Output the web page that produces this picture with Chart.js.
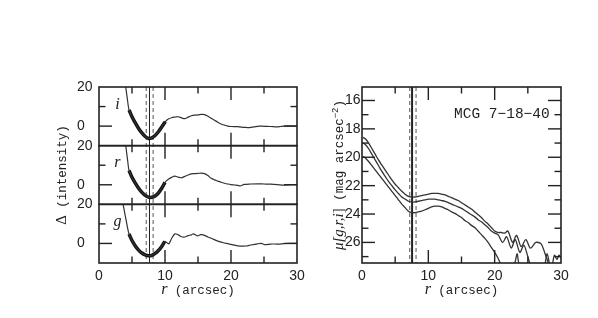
<!DOCTYPE html>
<html>
<head>
<meta charset="utf-8">
<script src="https://cdn.jsdelivr.net/npm/chart.js@4.4.0/dist/chart.umd.min.js"></script>
<style>
  html, body { margin: 0; padding: 0; background: #fff; }
  #wrap { position: relative; width: 598px; height: 318px; }
  .box { position: absolute; top: 0; height: 318px; }
  #left { left: 0; width: 320px; }
  #right { left: 320px; width: 278px; }
</style>
</head>
<body>
<div id="wrap">
  <div class="box" id="left"><canvas id="leftChart"></canvas></div>
  <div class="box" id="right"><canvas id="rightChart"></canvas></div>
</div>
<script>
// ---- axis ticks ----
const X_TICKS = [0, 5, 10, 15, 20, 25, 30];
const DELTA_TICKS = [-10, 0, 10, 20];
const MU_TICKS = [16, 17, 18, 19, 20, 21, 22, 23, 24, 25, 26, 27];

// ---- left: residual intensity per band (r in arcsec) ----
const rI = [4.05, 4.3, 4.55, 5.0, 5.5, 6.0, 6.5, 7.0, 7.5, 8.0, 8.5, 9.0, 9.5, 10.05, 10.5, 11.0, 11.5, 12.0, 12.5, 13.0, 13.5, 14.0, 14.5, 15.0, 15.5, 16.0, 16.5, 17.0, 17.5, 18.0, 18.5, 19.0, 19.5, 20.0, 21.0, 22.0, 22.8, 23.5, 24.3, 25.0, 26.0, 27.0, 27.5, 28.0, 29.0, 30.0];
const dI = [20, 13.8, 8.2, 4.8, 1.6, -1.2, -3.5, -5.3, -6.3, -6.0, -4.8, -2.9, -0.5, 2.3, 3.6, 4.3, 4.6, 4.8, 4.2, 3.8, 4.6, 5.3, 5.6, 5.7, 6.0, 5.9, 5.0, 4.0, 3.0, 2.0, 1.1, 0.5, 0.0, -0.2, -0.3, -0.6, -0.8, -0.4, 0.0, -0.1, -0.2, -0.4, -0.2, 0.0, 0.1, 0.0];
const rIfit = [4.55, 5.0, 5.5, 6.0, 6.5, 7.0, 7.5, 8.0, 8.5, 9.0, 9.5, 10.05];
const dIfit = [8.2, 4.8, 1.6, -1.2, -3.5, -5.3, -6.3, -6.0, -4.8, -2.9, -0.5, 2.3];

const rR = [4.05, 4.3, 4.55, 5.0, 5.5, 6.0, 6.5, 7.0, 7.5, 8.0, 8.5, 9.0, 9.5, 10.0, 10.5, 11.0, 11.5, 12.0, 12.5, 13.0, 13.5, 14.0, 14.5, 15.0, 15.5, 16.0, 16.5, 17.0, 17.5, 18.0, 18.5, 19.0, 19.5, 20.0, 20.5, 21.0, 21.5, 22.0, 23.0, 24.0, 25.0, 26.0, 27.0, 28.0, 28.5, 29.0, 30.0];
const dR = [20, 13.5, 7.3, 3.8, 0.8, -1.8, -3.9, -5.4, -6.3, -6.4, -5.7, -4.2, -1.8, 1.2, 2.8, 3.8, 4.4, 3.9, 3.6, 4.3, 5.0, 5.6, 5.7, 5.8, 6.0, 5.7, 4.7, 3.3, 2.5, 1.9, 1.3, 0.8, 0.4, 0.1, -0.1, -0.3, -0.5, 0.2, 0.4, 0.5, 0.4, 0.3, 0.1, -0.2, -0.1, 0.1, 0.0];
const rRfit = [4.55, 5.0, 5.5, 6.0, 6.5, 7.0, 7.5, 8.0, 8.5, 9.0, 9.5, 10.0];
const dRfit = [7.3, 3.8, 0.8, -1.8, -3.9, -5.4, -6.3, -6.4, -5.7, -4.2, -1.8, 1.2];

const rG = [3.65, 3.9, 4.1, 4.3, 4.55, 5.0, 5.5, 6.0, 6.5, 7.0, 7.5, 8.0, 8.5, 9.0, 9.5, 9.95, 10.3, 10.6, 11.0, 11.5, 12.0, 12.5, 13.0, 13.5, 14.0, 14.3, 14.9, 15.4, 15.8, 16.5, 17.3, 18.0, 18.7, 19.3, 20.0, 21.0, 22.3, 23.0, 24.0, 24.6, 25.1, 26.0, 27.1, 28.0, 29.0, 30.0];
const dG = [20, 15.5, 12.0, 8.5, 4.8, 1.5, -1.3, -3.4, -4.9, -5.9, -6.3, -6.1, -5.1, -3.6, -1.5, 1.0, 0.4, -0.2, 2.5, 4.9, 4.4, 3.4, 3.3, 4.0, 4.4, 4.9, 3.9, 4.5, 4.4, 3.3, 2.2, 1.2, 0.5, 0.0, -0.5, -1.2, -1.3, -0.8, -0.2, 0.0, -0.6, -0.3, -0.3, -0.1, 0.1, 0.1];
const rGfit = [4.55, 5.0, 5.5, 6.0, 6.5, 7.0, 7.5, 8.0, 8.5, 9.0, 9.5, 9.95];
const dGfit = [4.8, 1.5, -1.3, -3.4, -4.9, -5.9, -6.3, -6.1, -5.1, -3.6, -1.5, 1.0];

// ---- right: surface brightness profiles (mag arcsec^-2) ----
const rMuI = [0.15, 0.5, 1.0, 1.5, 2.0, 2.5, 3.0, 3.5, 4.0, 4.5, 5.0, 5.5, 6.0, 6.5, 7.0, 7.5, 8.0, 8.5, 9.0, 9.5, 10.0, 10.5, 11.0, 11.5, 12.0, 12.5, 13.0, 13.5, 14.0, 14.5, 15.0, 15.5, 16.0, 16.5, 17.0, 17.5, 18.0, 18.5, 19.0, 19.5, 20.0, 20.5, 21.0, 21.5, 22.0, 22.7, 23.3, 24.0, 24.7, 25.4, 26.2, 27.0, 27.6, 28.2];
const muI = [18.6, 18.7, 19.0, 19.4, 19.8, 20.2, 20.55, 20.9, 21.25, 21.6, 21.9, 22.15, 22.4, 22.6, 22.75, 22.8, 22.8, 22.75, 22.7, 22.65, 22.6, 22.55, 22.55, 22.55, 22.6, 22.65, 22.75, 22.85, 22.95, 23.05, 23.2, 23.35, 23.5, 23.65, 23.85, 24.05, 24.25, 24.5, 24.7, 24.95, 25.2, 25.3, 25.3, 25.35, 25.2, 26.0, 25.5, 26.3, 25.8, 26.4, 26.0, 26.1, 26.8, 27.6];
const rMuR = [0.15, 0.5, 1.0, 1.5, 2.0, 2.5, 3.0, 3.5, 4.0, 4.5, 5.0, 5.5, 6.0, 6.5, 7.0, 7.5, 8.0, 8.5, 9.0, 9.5, 10.0, 10.5, 11.0, 11.5, 12.0, 12.5, 13.0, 13.5, 14.0, 14.5, 15.0, 15.5, 16.0, 16.5, 17.0, 17.5, 18.0, 18.5, 19.0, 19.5, 20.0, 20.5, 21.2, 21.8, 22.5, 23.1, 23.8, 24.4, 25.0, 25.4, 26.5, 28.6, 29.0, 29.4, 29.7, 30.0];
const muR = [19.0, 19.1, 19.4, 19.8, 20.2, 20.6, 21.0, 21.35, 21.7, 22.0, 22.3, 22.55, 22.8, 22.95, 23.1, 23.15, 23.15, 23.1, 23.05, 23.0, 22.95, 22.95, 22.95, 23.0, 23.05, 23.1, 23.2, 23.3, 23.4, 23.5, 23.6, 23.75, 23.9, 24.05, 24.2, 24.4, 24.55, 24.75, 24.95, 25.2, 25.35, 25.45, 26.0, 25.6, 26.4, 25.8, 26.7, 26.2, 27.0, 27.6, 28.5, 27.6, 26.9, 27.2, 26.9, 27.1];
const rMuG = [0.15, 0.5, 1.0, 1.5, 2.0, 2.5, 3.0, 3.5, 4.0, 4.5, 5.0, 5.5, 6.0, 6.5, 7.0, 7.5, 8.0, 8.5, 9.0, 9.5, 10.0, 10.5, 11.0, 11.5, 12.0, 12.5, 13.0, 13.5, 14.0, 14.5, 15.0, 15.5, 16.0, 16.5, 17.0, 17.5, 18.0, 18.5, 19.0, 19.5, 20.0, 20.5, 21.0, 22.0, 23.0, 23.4, 23.8, 26.5, 27.5, 27.9, 28.3];
const muG = [19.95, 20.05, 20.3, 20.6, 20.9, 21.2, 21.5, 21.8, 22.1, 22.4, 22.7, 23.0, 23.3, 23.55, 23.8, 23.9, 23.9, 23.85, 23.8, 23.7, 23.6, 23.5, 23.45, 23.45, 23.5, 23.6, 23.7, 23.85, 23.95, 24.1, 24.25, 24.45, 24.6, 24.8, 24.95, 25.2, 25.45, 25.7, 26.0, 26.35, 26.7, 27.1, 27.6, 28.2, 27.5, 26.8, 27.6, 28.0, 27.6, 26.8, 27.6];

// vertical markers (dashed, solid, dashed)
const MARK_LEFT = [7.15, 7.65, 8.2];
const MARK_RIGHT = [7.2, 7.55, 8.15];

const GALAXY = 'MCG 7\u221218\u221240';

const INK = '#222';
const SANS = '"Liberation Sans", Arial, sans-serif';
const MONO = '"Liberation Mono", monospace';
const SERIF = '"Liberation Serif", serif';
const MAJOR = 13, MINOR = 6.5;

function seg(ctx, x1, y1, x2, y2) {
  ctx.beginPath(); ctx.moveTo(x1, y1); ctx.lineTo(x2, y2); ctx.stroke();
}

// text made of pieces with different fonts, centred on (x, y) baseline
function richText(ctx, parts, x, y, rot) {
  ctx.save();
  ctx.translate(x, y);
  ctx.rotate(rot);
  ctx.fillStyle = INK;
  ctx.textAlign = 'left';
  ctx.textBaseline = 'alphabetic';
  let total = 0;
  const w = parts.map(p => { ctx.font = p.font; const m = ctx.measureText(p.text).width; total += m; return m; });
  let cx = -total / 2;
  parts.forEach((p, k) => { ctx.font = p.font; ctx.fillText(p.text, cx, p.dy || 0); cx += w[k]; });
  ctx.restore();
}

const R_TITLE = [
  { text: 'r', font: 'italic 16px ' + SERIF },
  { text: ' (arcsec)', font: '12.5px ' + MONO }
];
const DELTA_TITLE = [
  { text: '\u0394', font: '15px ' + SERIF },
  { text: ' (intensity)', font: '12.5px ' + MONO }
];
const MU_TITLE = [
  { text: '\u03bc[', font: 'italic 15px ' + SERIF },
  { text: 'g,r,i', font: 'italic 15px ' + SERIF },
  { text: ']', font: '15px ' + SERIF },
  { text: ' (mag arcsec', font: '12.5px ' + MONO },
  { text: '\u22122', font: '9px ' + MONO, dy: -5 },
  { text: ')', font: '12.5px ' + MONO }
];

function drawMarks(chart, marks, midWidth) {
  const { ctx, chartArea: a } = chart;
  const x = chart.scales.x;
  ctx.save();
  marks.forEach((v, k) => {
    const px = x.getPixelForValue(v);
    ctx.strokeStyle = k === 1 ? INK : '#555';
    ctx.lineWidth = k === 1 ? midWidth : 1;
    ctx.setLineDash(k === 1 ? [] : [4, 3]);
    seg(ctx, px, a.top, px, a.bottom);
  });
  ctx.restore();
}

// frame + inward tick marks for every stacked panel
function drawPanels(chart, yIds, isMajorY) {
  const { ctx, chartArea: a } = chart;
  const x = chart.scales.x;
  ctx.save();
  ctx.strokeStyle = INK;
  yIds.forEach(id => {
    const y = chart.scales[id];
    ctx.lineWidth = 1.4;
    x.ticks.forEach(t => {
      if (t.value <= x.min || t.value >= x.max) return;
      const px = x.getPixelForValue(t.value);
      const len = t.value % 10 === 0 ? MAJOR : MINOR;
      seg(ctx, px, y.top, px, y.top + len);
      seg(ctx, px, y.bottom, px, y.bottom - len);
    });
    y.ticks.forEach(t => {
      if (t.value <= y.min || t.value >= y.max) return;
      const py = y.getPixelForValue(t.value);
      const len = isMajorY(t.value) ? MAJOR : MINOR;
      seg(ctx, a.left, py, a.left + len, py);
      seg(ctx, a.right, py, a.right - len, py);
    });
    ctx.lineWidth = 1.6;
    ctx.strokeRect(a.left, y.top, a.right - a.left, y.bottom - y.top);
  });
  ctx.restore();
}

const line = (xs, ys, axis, width) => ({
  data: xs.map((v, k) => ({ x: v, y: ys[k] })),
  yAxisID: axis,
  borderColor: width > 2 ? '#111' : '#333',
  borderWidth: width,
  pointRadius: 0,
  tension: 0.3,
  fill: false
});

function xScale() {
  return {
    type: 'linear', position: 'bottom', min: 0, max: 30,
    afterBuildTicks: s => { s.ticks = X_TICKS.map(v => ({ value: v })); },
    afterFit: s => { s.height = 55; },
    grid: { display: false, drawTicks: false },
    border: { display: false },
    ticks: {
      autoSkip: false, maxRotation: 0, padding: 5, color: INK,
      font: { family: SANS, size: 14 },
      callback: v => (v % 10 === 0 ? String(v) : '')
    }
  };
}

function deltaScale() {
  return {
    type: 'linear', position: 'left', stack: 'bands', stackWeight: 1, min: -10, max: 20,
    afterBuildTicks: s => { s.ticks = DELTA_TICKS.map(v => ({ value: v })); },
    afterFit: s => { s.width = 22; },
    grid: { display: false, drawTicks: false },
    border: { display: false },
    ticks: {
      autoSkip: false, crossAlign: 'far', color: INK,
      font: { family: SANS, size: 14 },
      callback: v => (v === 0 || v === 20 ? String(v) : '')
    }
  };
}

const leftDeco = {
  id: 'leftDeco',
  beforeDatasetsDraw(chart) { drawMarks(chart, MARK_LEFT, 1); },
  afterDraw(chart) {
    drawPanels(chart, ['yg', 'yr', 'yi'], v => v % 20 === 0);
    const { ctx, chartArea: a, scales } = chart;
    ctx.save();
    ctx.fillStyle = INK;
    ctx.font = 'italic 16px ' + SERIF;
    ctx.textAlign = 'center';
    [['yi', 'i'], ['yr', 'r'], ['yg', 'g']].forEach(([id, ch]) => {
      ctx.fillText(ch, scales.x.getPixelForValue(2.8), scales[id].getPixelForValue(9));
    });
    ctx.restore();
    richText(ctx, R_TITLE, (a.left + a.right) / 2, 294, 0);
    richText(ctx, DELTA_TITLE, 66, (a.top + a.bottom) / 2, -Math.PI / 2);
  }
};

const rightDeco = {
  id: 'rightDeco',
  beforeDatasetsDraw(chart) { drawMarks(chart, MARK_RIGHT, 2); },
  afterDraw(chart) {
    drawPanels(chart, ['y'], v => v % 2 === 0);
    const { ctx, chartArea: a, scales } = chart;
    ctx.save();
    ctx.fillStyle = INK;
    ctx.font = '14.5px ' + MONO;
    ctx.textAlign = 'right';
    ctx.fillText(GALAXY, scales.x.getPixelForValue(28.3), scales.y.getPixelForValue(17.25));
    ctx.restore();
    richText(ctx, R_TITLE, (a.left + a.right) / 2, 294, 0);
    richText(ctx, MU_TITLE, 23, (a.top + a.bottom) / 2, -Math.PI / 2);
  }
};

const common = {
  responsive: true,
  maintainAspectRatio: false,
  animation: false,
  devicePixelRatio: 1,
  plugins: { legend: { display: false }, tooltip: { enabled: false } }
};

new Chart(document.getElementById('leftChart'), {
  type: 'line',
  data: {
    datasets: [
      line(rG, dG, 'yg', 1.2), line(rGfit, dGfit, 'yg', 3.5),
      line(rR, dR, 'yr', 1.2), line(rRfit, dRfit, 'yr', 3.5),
      line(rI, dI, 'yi', 1.2), line(rIfit, dIfit, 'yi', 3.5)
    ]
  },
  options: {
    ...common,
    layout: { padding: { left: 77, top: 87, right: 23, bottom: 0 } },
    scales: { x: xScale(), yg: deltaScale(), yr: deltaScale(), yi: deltaScale() }
  },
  plugins: [leftDeco]
});

new Chart(document.getElementById('rightChart'), {
  type: 'line',
  data: {
    datasets: [
      line(rMuI, muI, 'y', 1.3),
      line(rMuR, muR, 'y', 1.3),
      line(rMuG, muG, 'y', 1.3)
    ]
  },
  options: {
    ...common,
    layout: { padding: { left: 0, top: 87, right: 37, bottom: 0 } },
    scales: {
      x: xScale(),
      y: {
        type: 'linear', position: 'left', reverse: true, min: 15.05, max: 27.45,
        afterBuildTicks: s => { s.ticks = MU_TICKS.map(v => ({ value: v })); },
        afterFit: s => { s.width = 42; },
        grid: { display: false, drawTicks: false },
        border: { display: false },
        ticks: {
          autoSkip: false, crossAlign: 'near', padding: 1.5, color: INK,
          font: { family: SANS, size: 14 },
          callback: v => (v % 2 === 0 ? String(v) : '')
        }
      }
    }
  },
  plugins: [rightDeco]
});
</script>
</body>
</html>
